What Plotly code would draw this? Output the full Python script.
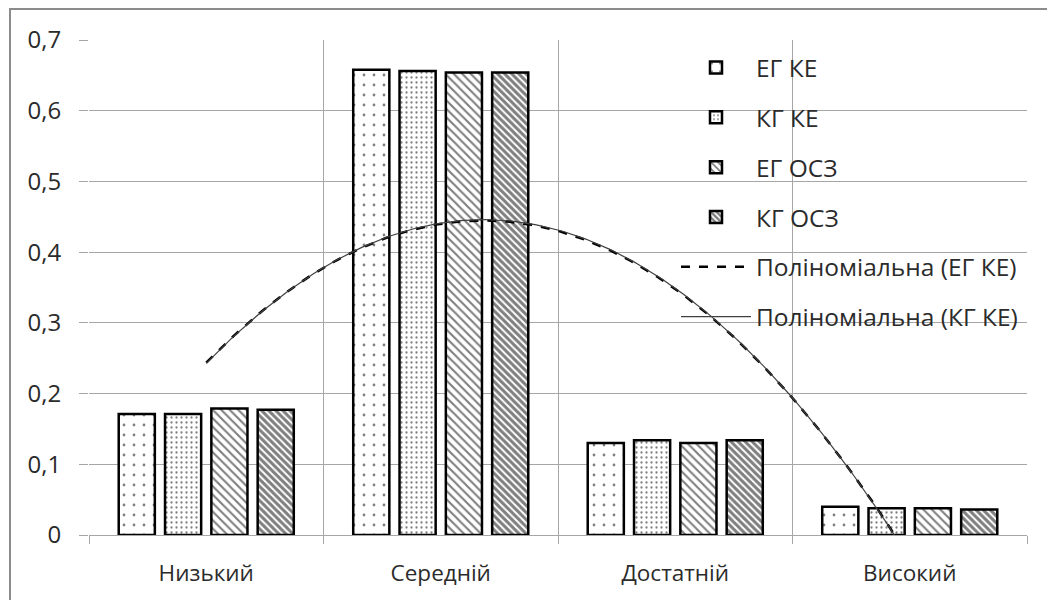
import numpy as np
import plotly.graph_objects as go

categories = ["Низький", "Середній", "Достатній", "Високий"]
eg_ke = [0.171, 0.658, 0.130, 0.040]
kg_ke = [0.171, 0.656, 0.134, 0.038]
eg_osz = [0.179, 0.654, 0.130, 0.038]
kg_osz = [0.177, 0.654, 0.134, 0.036]
y_ticks = [0, 0.1, 0.2, 0.3, 0.4, 0.5, 0.6, 0.7]

xpos = list(range(len(categories)))

FONT = "Open Sans"
TXT = "#2b2b2b"
GRID = "#a6a6a6"

fig = go.Figure()

bar_styles = [
    ("ЕГ КЕ", eg_ke, dict(shape=".", size=10, solidity=0.06)),
    ("КГ КЕ", kg_ke, dict(shape=".", size=5, solidity=0.16)),
    ("ЕГ ОСЗ", eg_osz, dict(shape="\\", size=6, solidity=0.35)),
    ("КГ ОСЗ", kg_osz, dict(shape="\\", size=5, solidity=0.6)),
]
for name, vals, pat in bar_styles:
    fig.add_trace(go.Bar(
        x=xpos, y=vals, name=name, legendgroup=name,
        marker=dict(color="white", line=dict(color="black", width=2.5),
                    pattern=dict(fgcolor="black", bgcolor="white", **pat)),
    ))

# polynomial (2nd order) trendlines fitted to the series, as in the source chart
xs = np.linspace(xpos[0], xpos[-1], 200)
c_eg = np.polyfit(xpos, eg_ke, 2)
c_kg = np.polyfit(xpos, kg_ke, 2)
fig.add_trace(go.Scatter(
    x=xs, y=np.polyval(c_eg, xs), mode="lines", name="Поліноміальна (ЕГ КЕ)",
    legendgroup="p1", line=dict(color="black", width=2.5, dash="dash"),
))
fig.add_trace(go.Scatter(
    x=xs, y=np.polyval(c_kg, xs), mode="lines", name="Поліноміальна (КГ КЕ)",
    legendgroup="p2", line=dict(color="#404040", width=1.2),
))

# figure coordinates (page body adds an 8px offset)
L, R, T, B = 81, 36, 32, 73
pw = 1055 - L - R
ph = 600 - T - B
y0px = 600 - B

fig.update_layout(
    width=1055, height=600,
    margin=dict(l=L, r=R, t=T, b=B),
    paper_bgcolor="white", plot_bgcolor="white",
    separators=", ",
    font=dict(family=FONT, size=22, color=TXT),
    barmode="group", bargap=0.21, bargroupgap=0.22,
    legend=dict(
        x=(668 - L) / pw, y=(y0px - 37) / ph, xanchor="left", yanchor="top",
        bgcolor="rgba(0,0,0,0)", itemwidth=70, tracegroupgap=15,
        font=dict(family=FONT, size=24.5, color=TXT), traceorder="grouped",
    ),
    xaxis=dict(
        range=[-0.5, 3.5], tickmode="array", tickvals=xpos, ticktext=categories,
        showgrid=False, zeroline=False, showline=False, ticks="", ticklabelstandoff=22,
        minor=dict(tickmode="array", tickvals=[-0.5, 0.5, 1.5, 2.5, 3.5],
                   showgrid=True, gridcolor=GRID, gridwidth=1.3,
                   ticks="outside", ticklen=8, tickcolor=GRID, tickwidth=1.3),
        tickfont=dict(family=FONT, size=22.5, color=TXT),
    ),
    yaxis=dict(
        range=[0, 0.7], tickmode="array", tickvals=y_ticks,
        showgrid=True, gridcolor=GRID, gridwidth=1.3,
        zeroline=True, zerolinecolor=GRID, zerolinewidth=1.3,
        ticks="outside", ticklen=9, tickcolor=GRID, tickwidth=1.3,
        ticklabelstandoff=13,
        tickfont=dict(family=FONT, size=24, color=TXT),
    ),
    shapes=[dict(
        type="rect", xref="paper", yref="paper",
        x0=(2 - L) / pw, x1=(1080 - L) / pw,
        y0=(y0px - 640) / ph, y1=(y0px - 1) / ph,
        line=dict(color="#8c8c8c", width=2), fillcolor="rgba(0,0,0,0)", layer="below",
    )],
)

fig.write_html("out.html")
